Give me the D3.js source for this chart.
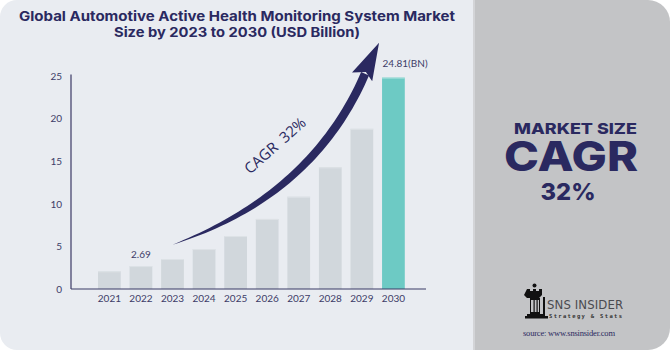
<!DOCTYPE html>
<html>
<head>
<meta charset="utf-8">
<script src="https://cdn.jsdelivr.net/npm/d3@7"></script>
<style>
  body { margin: 0; background: #fff; }
  svg { display: block; font-family: Lato, "Open Sans", sans-serif; }
</style>
</head>
<body>
<svg id="chart"></svg>
<script>
// values
const years = ['2021', '2022', '2023', '2024', '2025', '2026', '2027', '2028', '2029', '2030'];
const marketSize = [2.08, 2.69, 3.52, 4.69, 6.22, 8.22, 10.83, 14.28, 18.8, 24.81];
const yTickValues = [0, 5, 10, 15, 20, 25];
const labelYears = ['2022', '2030'];
const labelTexts = ['2.69', '24.81(BN)'];
const titleLines = ['Global Automotive Active Health Monitoring System Market', 'Size by 2023 to 2030 (USD Billion)'];
const cagrText = 'CAGR  32%';
const sideLines = ['MARKET SIZE', 'CAGR', '32%'];

class MarketChart {

  constructor(_config) {
    this.config = {
      parentElement: _config.parentElement,
      containerWidth: 670,
      containerHeight: 350,
      splitX: 474,
      plot: {left: 71, right: 426, top: 76, bottom: 289},
      navy: '#2a2960',
      textColor: '#3d3c68'
    };
    this.initVis();
  }

  initVis() {
    let vis = this;
    const c = vis.config;

    vis.svg = d3.select(c.parentElement)
        .attr('width', c.containerWidth)
        .attr('height', c.containerHeight);

    // two background panels, rounded on the outer corners
    const rl = 17, rr = 22, W = c.containerWidth, H = c.containerHeight, s = c.splitX;
    vis.svg.append('path')
        .attr('d', `M${rl},0H${s}V${H}H${rl}A${rl},${rl} 0 0 1 0,${H - rl}V${rl}A${rl},${rl} 0 0 1 ${rl},0Z`)
        .attr('fill', '#e9ecf1');
    vis.svg.append('path')
        .attr('d', `M${s},0H${W - rr}A${rr},${rr} 0 0 1 ${W},${rr}V${H - rr}A${rr},${rr} 0 0 1 ${W - rr},${H}H${s}Z`)
        .attr('fill', '#c3c4c6');
    vis.svg.append('rect')
        .attr('x', s - 1).attr('y', 0).attr('width', 2).attr('height', H)
        .attr('fill', '#d3d4d7');

    vis.xScale = d3.scaleBand()
        .domain(years)
        .range([93.6, 409.2])
        .paddingInner(0.28)
        .paddingOuter(0.14);

    vis.yScale = d3.scaleLinear()
        .domain([0, 25])
        .range([c.plot.bottom, c.plot.top]);

    vis.chartArea = vis.svg.append('g');
    vis.renderVis();
    vis.renderArrow();
    vis.renderSide();
  }

  renderVis() {
    let vis = this;
    const c = vis.config;

    // title, stretched to the width of the original lines
    const titleWidths = [436, 246];
    vis.svg.selectAll('.title')
        .data(titleLines)
        .join('text')
        .attr('class', 'title')
        .attr('x', 237)
        .attr('y', (d, i) => 20.5 + i * 16)
        .attr('text-anchor', 'middle')
        .attr('textLength', (d, i) => titleWidths[i])
        .attr('lengthAdjust', 'spacingAndGlyphs')
        .style('font-family', 'Inter, "Open Sans", sans-serif')
        .style('font-weight', 700)
        .style('font-size', '13.2px')
        .attr('fill', c.navy)
        .text(d => d);

    // bars
    const bars = vis.chartArea.selectAll('.bar')
        .data(years.map((y, i) => ({year: y, value: marketSize[i]})))
        .join('g')
        .attr('class', 'bar');

    bars.append('rect')
        .attr('x', d => vis.xScale(d.year))
        .attr('width', vis.xScale.bandwidth())
        .attr('y', d => vis.yScale(d.value))
        .attr('height', d => vis.yScale(0) - vis.yScale(d.value))
        .attr('fill', d => d.year === '2030' ? '#6dcac4' : '#d1d7dc');

    // thin lighter edge on top of each bar
    bars.append('rect')
        .attr('x', d => vis.xScale(d.year))
        .attr('width', vis.xScale.bandwidth())
        .attr('y', d => vis.yScale(d.value))
        .attr('height', 1)
        .attr('fill', d => d.year === '2030' ? '#a9e0dc' : '#dde2e6');

    // y axis
    vis.yAxis = d3.axisLeft(vis.yScale).tickValues(yTickValues).tickSize(0).tickPadding(9);
    vis.yAxisG = vis.chartArea.append('g')
        .attr('transform', `translate(${c.plot.left},0)`)
        .call(vis.yAxis);
    vis.yAxisG.select('.domain').remove();
    vis.yAxisG.selectAll('text')
        .style('font-size', '10px')
        .style('font-family', 'Lato, sans-serif')
        .attr('fill', c.textColor);

    // x axis
    vis.xAxis = d3.axisBottom(vis.xScale).tickSize(0).tickPadding(6);
    vis.xAxisG = vis.chartArea.append('g')
        .attr('transform', `translate(0,${c.plot.bottom})`)
        .call(vis.xAxis);
    vis.xAxisG.select('.domain').remove();
    vis.xAxisG.selectAll('text')
        .style('font-size', '10px')
        .style('font-family', 'Lato, sans-serif')
        .attr('fill', c.textColor);

    // axis lines
    vis.chartArea.append('line')
        .attr('x1', c.plot.left).attr('x2', c.plot.left)
        .attr('y1', c.plot.top - 1.5).attr('y2', c.plot.bottom)
        .attr('stroke', '#3b3a66').attr('stroke-width', 1.2);
    vis.chartArea.append('line')
        .attr('x1', c.plot.left).attr('x2', c.plot.right)
        .attr('y1', c.plot.bottom).attr('y2', c.plot.bottom)
        .attr('stroke', '#3b3a66').attr('stroke-width', 1.2);

    // value labels
    vis.chartArea.selectAll('.value-label')
        .data(labelYears.map((y, i) => ({year: y, text: labelTexts[i], value: marketSize[years.indexOf(y)]})))
        .join('text')
        .attr('class', 'value-label')
        .attr('x', d => d.year === '2030' ? vis.xScale(d.year) + 0.5 : vis.xScale(d.year) + vis.xScale.bandwidth() / 2)
        .attr('y', d => vis.yScale(d.value) - (d.year === '2030' ? 11 : 8.5))
        .attr('text-anchor', d => d.year === '2030' ? 'start' : 'middle')
        .style('font-size', '10px')
        .attr('fill', c.textColor)
        .text(d => d.text);
  }

  renderArrow() {
    let vis = this;
    const c = vis.config;
    const bw = vis.xScale.bandwidth();

    // swoosh from 2023 bar up past the 2030 bar
    const p0 = [vis.xScale('2023') + bw / 2, vis.yScale(5.2)];
    const tip = [vis.xScale('2030') - 3, vis.yScale(28.9)];
    const p2 = [tip[0] - 14, tip[1] + 31];
    const cp = [p2[0] - 52, p0[1] - 50];

    const pt = t => [
      (1 - t) * (1 - t) * p0[0] + 2 * t * (1 - t) * cp[0] + t * t * p2[0],
      (1 - t) * (1 - t) * p0[1] + 2 * t * (1 - t) * cp[1] + t * t * p2[1]
    ];
    const tan = t => {
      const dx = 2 * (1 - t) * (cp[0] - p0[0]) + 2 * t * (p2[0] - cp[0]);
      const dy = 2 * (1 - t) * (cp[1] - p0[1]) + 2 * t * (p2[1] - cp[1]);
      const l = Math.hypot(dx, dy);
      return [dx / l, dy / l];
    };

    const ts = d3.range(0, 1.0001, 0.02);
    const upper = [], lower = [];
    ts.forEach(t => {
      const p = pt(t), d = tan(t), n = [-d[1], d[0]];
      const w = 4.3 * (1 - Math.pow(1 - t, 3));
      upper.push([p[0] - n[0] * w, p[1] - n[1] * w]);
      lower.push([p[0] + n[0] * w, p[1] + n[1] * w]);
    });
    const shaft = upper.concat(lower.reverse());
    vis.svg.append('path')
        .attr('d', d3.line()(shaft) + 'Z')
        .attr('fill', c.navy);

    // arrow head
    const d = tan(1), n = [-d[1], d[0]];
    const back = [p2[0] - d[0] * 4, p2[1] - d[1] * 4];
    const head = [
      [back[0] - n[0] * 12.5, back[1] - n[1] * 12.5],
      tip,
      [back[0] + n[0] * 9.5, back[1] + n[1] * 9.5],
      [p2[0] + d[0] * 2, p2[1] + d[1] * 2]
    ];
    vis.svg.append('path')
        .attr('d', d3.line()(head) + 'Z')
        .attr('fill', c.navy);

    vis.svg.append('text')
        .attr('transform', 'translate(278.5,149.5) rotate(-41.5)')
        .attr('text-anchor', 'middle')
        .style('font-family', '"Open Sans", sans-serif')
        .style('font-size', '15px')
        .style('white-space', 'pre')
        .attr('fill', c.navy)
        .text(cagrText);
  }

  renderSide() {
    let vis = this;
    const c = vis.config;
    const g = vis.svg.append('g')
        .style('font-family', 'Inter, "Open Sans", sans-serif')
        .style('font-weight', 800)
        .attr('fill', c.navy)
        .attr('text-anchor', 'middle');

    // widths and sizes taken from the reference panel
    const sideX = [575.5, 571, 568];
    const sideY = [134, 170.5, 200];
    const sideW = [123, 134, 55];
    const sideSize = [15, 41, 23];
    g.selectAll('text')
        .data(sideLines)
        .join('text')
        .attr('x', (d, i) => sideX[i])
        .attr('y', (d, i) => sideY[i])
        .attr('textLength', (d, i) => sideW[i])
        .attr('lengthAdjust', 'spacingAndGlyphs')
        .style('font-size', (d, i) => sideSize[i] + 'px')
        .text(d => d);

    // SNS Insider logo: a rook and the name
    const logo = vis.svg.append('g').attr('fill', '#111');
    logo.append('circle').attr('cx', 534.5).attr('cy', 285.5).attr('r', 2);
    logo.append('path')
        .attr('d', 'M527,289h3v2h3v-2h3v2h3v-2h3v6l-3,3h-12l-3,-3Z');
    logo.append('path')
        .attr('d', 'M530,298h10v16h-10Z M531,300h8v12h-8Z')
        .attr('fill-rule', 'evenodd');
    logo.append('rect').attr('x', 533.5).attr('y', 300).attr('width', 1.2).attr('height', 12);
    logo.append('rect').attr('x', 536.5).attr('y', 300).attr('width', 1.2).attr('height', 12);
    logo.append('path').attr('d', 'M527,314h16v2h-16Z M525,316h23v2.5h-23Z');
    logo.append('path').attr('d', 'M543,297h2v20h-2Z');

    vis.svg.append('text')
        .attr('x', 547).attr('y', 308.5)
        .attr('textLength', 76)
        .style('font-family', '"DejaVu Sans Condensed", "Liberation Sans Narrow", sans-serif')
        .style('font-size', '13px')
        .attr('fill', '#4a4a4f')
        .text('SNS INSIDER');
    vis.svg.append('text')
        .attr('x', 549).attr('y', 317.5)
        .style('font-family', '"DejaVu Sans Mono", monospace')
        .style('font-size', '5.5px')
        .style('font-weight', 700)
        .attr('fill', '#333')
        .attr('textLength', 73)
        .text('Strategy & Stats');

    vis.svg.append('text')
        .attr('x', 569).attr('y', 335.5)
        .attr('text-anchor', 'middle')
        .attr('textLength', 92)
        .style('font-family', '"Liberation Serif", "DejaVu Serif", serif')
        .style('font-size', '8.5px')
        .attr('fill', c.navy)
        .text('source: www.snsinsider.com');
  }
}

const chart = new MarketChart({parentElement: '#chart'});
</script>
</body>
</html>
